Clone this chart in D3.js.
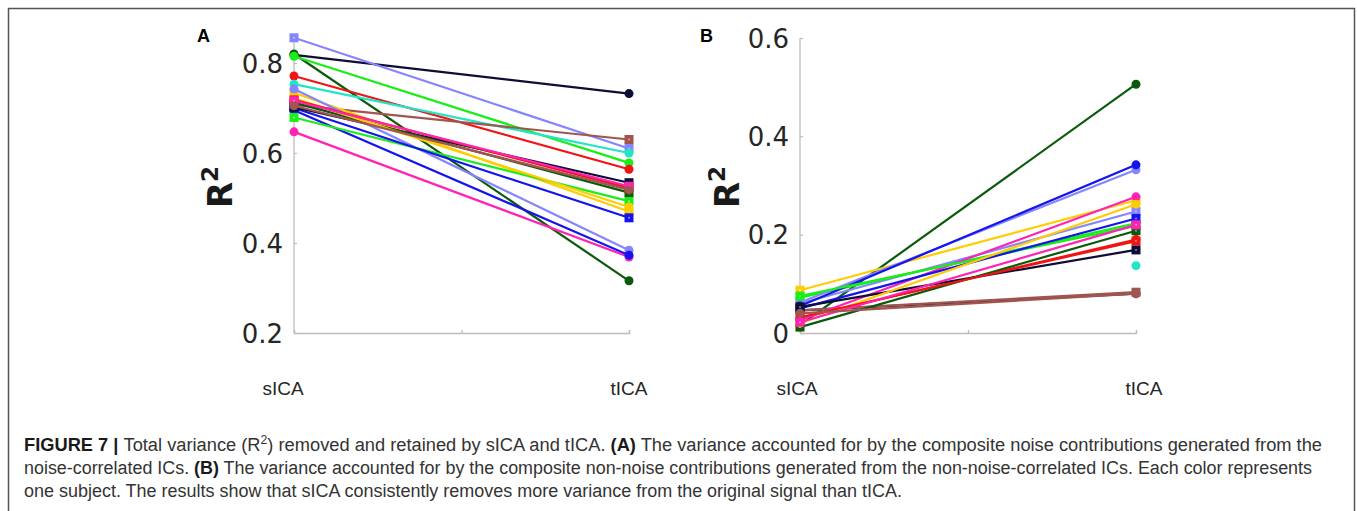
<!DOCTYPE html>
<html>
<head>
<meta charset="utf-8">
<script src="https://cdn.jsdelivr.net/npm/d3@7"></script>
<style>
  body { margin: 0; background: #fff; }
  svg { display: block; }
</style>
</head>
<body>
<svg id="fig" width="1357" height="511"></svg>
<script>
// sICA vs tICA variance, one line per subject

const methods = ['sICA', 'tICA'];

// subject colours + markers (circle / square)
const subjColors = ['#0d0d35', '#0b5a0b', '#8585ff', '#19ee19', '#f01414', '#1fe6c6',
  '#a0554f', '#ffcc00', '#8585ff', '#ff22b4', '#1414ee', '#19ee19', '#1414ee',
  '#0d0d35', '#0b5a0b', '#ffcc00', '#f01414', '#ff22b4', '#a0554f'];
const subjMarkers = ['o', 'o', 's', 'o', 'o', 'o', 's', 's', 'o', 'o', 'o', 's', 's',
  's', 's', 'o', 's', 's', 'o'];

// panel A: noise contributions
const aSICA = [0.818, 0.820, 0.856, 0.815, 0.771, 0.753, 0.707, 0.734, 0.742, 0.647,
  0.695, 0.679, 0.700, 0.702, 0.712, 0.722, 0.718, 0.716, 0.705];
const aTICA = [0.732, 0.316, 0.610, 0.578, 0.564, 0.600, 0.630, 0.470, 0.384, 0.369,
  0.373, 0.493, 0.456, 0.534, 0.512, 0.480, 0.522, 0.526, 0.518];

// panel B: non-noise contributions (cyan subject has no sICA point)
const bSICA = [0.046, 0.016, 0.060, 0.072, 0.030, null, 0.046, 0.087, 0.062, 0.026,
  0.055, 0.075, 0.050, 0.053, 0.012, 0.020, 0.032, 0.022, 0.040];
const bTICA = [0.080, 0.506, 0.247, 0.223, 0.190, 0.137, 0.083, 0.270, 0.332, 0.277,
  0.342, 0.218, 0.233, 0.169, 0.208, 0.262, 0.187, 0.220, 0.080];

const aTicks = [0.2, 0.4, 0.6, 0.8];
const bTicks = [0, 0.2, 0.4, 0.6];

const svg = d3.select('#fig');

// outer frame (open at the bottom)
svg.append('path')
  .attr('d', 'M8.5,511 V8.5 H1354.5 V511')
  .attr('fill', 'none')
  .attr('stroke', '#555')
  .attr('stroke-width', 1.5);

function drawPanel(opt) {
  const x = d3.scalePoint().domain(methods).range([opt.x0, opt.x1]);
  const y = d3.scaleLinear().domain(opt.yDomain).range([333, opt.yTop]);
  const g = svg.append('g');

  // y axis
  const yAx = g.append('g')
    .attr('transform', `translate(${opt.x0},0)`)
    .call(d3.axisRight(y).tickValues(opt.ticks).tickSize(3).tickFormat(''));
  yAx.select('.domain').attr('d', `M0,${y.range()[1]}V${y.range()[0]}`);
  yAx.selectAll('line, path').attr('stroke', '#bdbdbd').attr('stroke-width', 1.3);

  g.selectAll('.ylab')
    .data(opt.ticks)
    .join('text')
    .attr('x', opt.x0 - 11)
    .attr('y', d => y(d) + 9.5)
    .attr('text-anchor', 'end')
    .attr('font-family', 'DejaVu Sans, sans-serif')
    .attr('font-size', 26)
    .attr('fill', '#262626')
    .text(d => d === 0 ? '0' : d3.format('.1f')(d));

  // x axis with middle tick
  const xl = d3.scaleLinear().domain([1, 2]).range([opt.x0, opt.x1]);
  const xAx = g.append('g')
    .attr('transform', 'translate(0,333)')
    .call(d3.axisTop(xl).tickValues([1, 1.5, 2]).tickSize(3).tickSizeOuter(3).tickFormat(''));
  xAx.selectAll('line, path').attr('stroke', '#bdbdbd').attr('stroke-width', 1.3);

  g.selectAll('.xlab')
    .data(methods)
    .join('text')
    .attr('x', (d, i) => x(d) + opt.labOff[i])
    .attr('y', 395)
    .attr('text-anchor', 'middle')
    .attr('font-family', 'Liberation Sans, Arial, sans-serif')
    .attr('font-size', 19)
    .attr('fill', '#262626')
    .text(d => d);

  // R^2 label
  const rl = g.append('text')
    .attr('transform', `translate(${opt.rx},187) rotate(-90)`)
    .attr('text-anchor', 'middle')
    .attr('font-family', 'DejaVu Sans, sans-serif')
    .attr('font-weight', 'bold')
    .attr('font-size', 34)
    .attr('fill', '#1a1a1a');
  rl.append('tspan').text('R');
  rl.append('tspan').attr('font-size', 23).attr('dy', -14).text('2');

  // panel letter
  g.append('text')
    .attr('x', opt.letterX)
    .attr('y', 42)
    .attr('font-family', 'Liberation Sans, Arial, sans-serif')
    .attr('font-weight', 'bold')
    .attr('font-size', 18)
    .attr('fill', '#000')
    .text(opt.letter);

  // subject lines + markers
  const subj = d3.range(opt.s.length).map(i => ({
    c: subjColors[i], m: subjMarkers[i], v: [opt.s[i], opt.t[i]]
  }));
  const line = d3.line()
    .defined(d => d != null)
    .x((d, i) => x(methods[i])).y(d => y(d));

  const sg = g.selectAll('.subj').data(subj).join('g');
  sg.filter(d => d.v[0] != null && d.v[1] != null)
    .append('path')
    .attr('d', d => line(d.v))
    .attr('fill', 'none')
    .attr('stroke', d => d.c)
    .attr('stroke-width', 2.2);

  sg.each(function (d) {
    const el = d3.select(this);
    d.v.forEach((v, i) => {
      if (v == null) return;
      const cx = x(methods[i]), cy = y(v);
      if (d.m === 'o') {
        el.append('circle').attr('cx', cx).attr('cy', cy).attr('r', 4.5).attr('fill', d.c);
      } else {
        el.append('rect').attr('x', cx - 4.5).attr('y', cy - 4.5)
          .attr('width', 9).attr('height', 9).attr('fill', d.c);
        el.append('circle').attr('cx', cx).attr('cy', cy).attr('r', 1)
          .attr('fill', d3.interpolateRgb(d.c, '#fff')(0.5));
      }
    });
  });
}

drawPanel({
  x0: 294, x1: 629, yDomain: [0.2, 0.86], yTop: 36, ticks: aTicks,
  s: aSICA, t: aTICA, rx: 232, letter: 'A', letterX: 197, labOff: [-11, 0]
});
drawPanel({
  x0: 800, x1: 1136, yDomain: [0, 0.6], yTop: 38, ticks: bTicks,
  s: bSICA, t: bTICA, rx: 739, letter: 'B', letterX: 700, labOff: [-3, 8]
});

// caption
const cap = svg.append('g')
  .attr('font-family', 'Liberation Sans Narrow, Arial Narrow, Liberation Sans, sans-serif')
  .attr('font-size', 18)
  .attr('fill', '#333');

const l1 = cap.append('text').attr('x', 24).attr('y', 451)
  .attr('textLength', 1298).attr('lengthAdjust', 'spacingAndGlyphs');
l1.append('tspan').attr('font-weight', 'bold').attr('fill', '#1a1a1a').text('FIGURE 7 | ');
l1.append('tspan').text('Total variance (R');
l1.append('tspan').attr('font-size', 12).attr('dy', -7).text('2');
l1.append('tspan').attr('dy', 7).text(') removed and retained by sICA and tICA. ');
l1.append('tspan').attr('font-weight', 'bold').attr('fill', '#1a1a1a').text('(A)');
l1.append('tspan').text(' The variance accounted for by the composite noise contributions generated from the');

const l2 = cap.append('text').attr('x', 24).attr('y', 474)
  .attr('textLength', 1288).attr('lengthAdjust', 'spacingAndGlyphs');
l2.append('tspan').text('noise-correlated ICs. ');
l2.append('tspan').attr('font-weight', 'bold').attr('fill', '#1a1a1a').text('(B)');
l2.append('tspan').text(' The variance accounted for by the composite non-noise contributions generated from the non-noise-correlated ICs. Each color represents');

cap.append('text').attr('x', 24).attr('y', 497)
  .attr('textLength', 878).attr('lengthAdjust', 'spacingAndGlyphs')
  .text('one subject. The results show that sICA consistently removes more variance from the original signal than tICA.');
</script>
</body>
</html>
